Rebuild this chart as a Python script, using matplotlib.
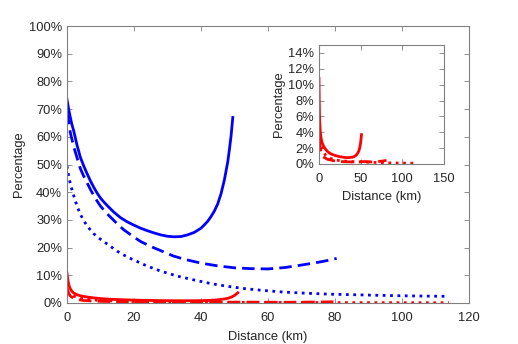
import matplotlib
matplotlib.use("Agg")
import matplotlib.pyplot as plt
from matplotlib.ticker import FuncFormatter

plt.rcParams['font.family'] = ['Liberation Sans', 'DejaVu Sans']

# blue curves, distance in km, value in %
blue_solid_x = [0, 0.5, 1, 1.5, 2, 3, 4, 5, 6, 7, 8, 9, 10, 11, 12, 14, 16, 18, 20, 22, 24, 26, 28, 30, 32,
                34, 36, 38, 40, 41, 42, 43, 44, 45, 46, 47, 48, 48.5, 49, 49.5]
blue_solid_y = [73.5, 70, 67, 64.3, 62.2, 57, 52.6, 49.5, 46.7, 44.1, 41.8, 39.7, 37.9, 36.5, 35.2, 32.8, 30.8,
                29.3, 28.1, 27.0, 26.1, 25.3, 24.6, 24.1, 23.9, 24.0, 24.6, 25.5, 27, 28.2, 29.5, 31.2, 33.2,
                35.8, 39.5, 44.5, 51, 55.5, 60.5, 67]

blue_dash_x = [0, 0.5, 1, 2, 3, 4, 5, 6, 7, 8, 9, 10, 12, 13, 15, 17, 20, 22, 25, 28, 31.7, 35, 40, 45, 50,
               55, 60, 65, 70, 75, 78, 80.5]
blue_dash_y = [69, 65.5, 61.5, 56.5, 52.5, 48.5, 45.8, 43.4, 41, 38.8, 36.8, 35, 32.2, 31, 28.6, 26.4, 23.8,
               22.2, 20.4, 18.9, 17.0, 15.8, 14.4, 13.4, 12.7, 12.4, 12.3, 12.8, 13.7, 14.7, 15.4, 16.1]

blue_dot_x = [0, 0.5, 1, 2, 3, 4, 5, 6, 8, 10, 12, 15, 18, 20, 24, 28, 33, 38, 43, 48, 53, 58, 64, 70,
              78, 85, 92, 100, 107, 114]
blue_dot_y = [49.5, 46, 43, 38.8, 35, 32, 29.8, 27.8, 25, 23, 21.3, 18.7, 16.6, 15.5, 13.3, 11.5, 9.7,
              8.3, 7.0, 6.0, 5.2, 4.6, 4.0, 3.6, 3.2, 3.0, 2.8, 2.6, 2.5, 2.4]

# red curves
red_solid_x = [0, 0.3, 0.6, 1, 1.5, 2, 3, 4, 6, 8, 10, 13, 16, 20, 25, 30, 35, 40, 42, 44, 45, 46, 47, 48,
               49, 50, 50.5, 51]
red_solid_y = [10.8, 8.0, 6.3, 5.1, 4.2, 3.6, 3.0, 2.6, 2.15, 1.85, 1.6, 1.35, 1.2, 1.05, 0.92, 0.83, 0.8,
               0.85, 0.92, 1.05, 1.15, 1.3, 1.45, 1.7, 2.1, 2.7, 3.2, 3.7]

red_dash_x = [0, 0.5, 1, 2, 3, 5, 10, 20, 30, 40, 50, 57, 65, 75, 81]
red_dash_y = [5.5, 3.5, 2.5, 1.7, 1.3, 0.9, 0.6, 0.35, 0.28, 0.25, 0.3, 0.3, 0.25, 0.35, 0.45]

red_dot_x = [0, 0.5, 1, 2, 3, 4, 6, 8, 10, 14, 18, 25, 30, 40, 50, 65, 80, 95, 114]
red_dot_y = [4.0, 3.5, 3.1, 2.5, 2.1, 1.8, 1.4, 1.1, 0.93, 0.7, 0.55, 0.42, 0.37, 0.3, 0.25, 0.2, 0.15,
             0.12, 0.1]

main_xticks = [0, 20, 40, 60, 80, 100, 120]
main_yticks = [0, 10, 20, 30, 40, 50, 60, 70, 80, 90, 100]
inset_xticks = [0, 50, 100, 150]
inset_yticks = [0, 2, 4, 6, 8, 10, 12, 14]

SPINE = '#808080'
TXT = '#262626'
LW = 2.0
FS = 9.3


def prepare_ax(ax):
    for s in ax.spines.values():
        s.set_color(SPINE)
        s.set_linewidth(0.8)
    ax.tick_params(direction='in', top=True, right=True, length=3.5,
                   width=0.6, color=SPINE, labelcolor=TXT, labelsize=FS)
    ax.tick_params(axis='x', pad=6.5)
    ax.yaxis.set_major_formatter(FuncFormatter(lambda v, p: '%d%%' % v))


def draw_red(ax):
    ax.plot(red_dot_x, red_dot_y, color='red', lw=LW, ls=':')
    ax.plot(red_dash_x, red_dash_y, color='red', lw=LW, ls=(0, (4.5, 2.2)))
    ax.plot(red_solid_x, red_solid_y, color='red', lw=LW, ls='-')


fig = plt.figure(figsize=(5.18, 3.44), dpi=100)
ax = fig.add_axes([0.1293, 0.1192, 0.776, 0.805])
ax.plot(blue_solid_x, blue_solid_y, color='blue', lw=LW, ls='-')
ax.plot(blue_dash_x, blue_dash_y, color='blue', lw=LW, ls=(0, (4.5, 2.2)))
ax.plot(blue_dot_x, blue_dot_y, color='blue', lw=LW, ls=':')
draw_red(ax)
ax.set_xlim(0, 120)
ax.set_ylim(0, 100)
ax.set_xticks(main_xticks)
ax.set_yticks(main_yticks)
prepare_ax(ax)
ax.set_xlabel('Distance (km)', fontsize=FS, color=TXT, labelpad=5)
ax.set_ylabel('Percentage', fontsize=FS, color=TXT, labelpad=2.5)

ins = fig.add_axes([0.6158, 0.5233, 0.2413, 0.3459])
draw_red(ins)
ins.set_xlim(0, 150)
ins.set_ylim(0, 15)
ins.set_xticks(inset_xticks)
ins.set_yticks(inset_yticks)
prepare_ax(ins)
ins.set_xlabel('Distance (km)', fontsize=FS, color=TXT, labelpad=4)
ins.set_ylabel('Percentage', fontsize=FS, color=TXT, labelpad=2.5)

fig.savefig('out.png', dpi=100)
